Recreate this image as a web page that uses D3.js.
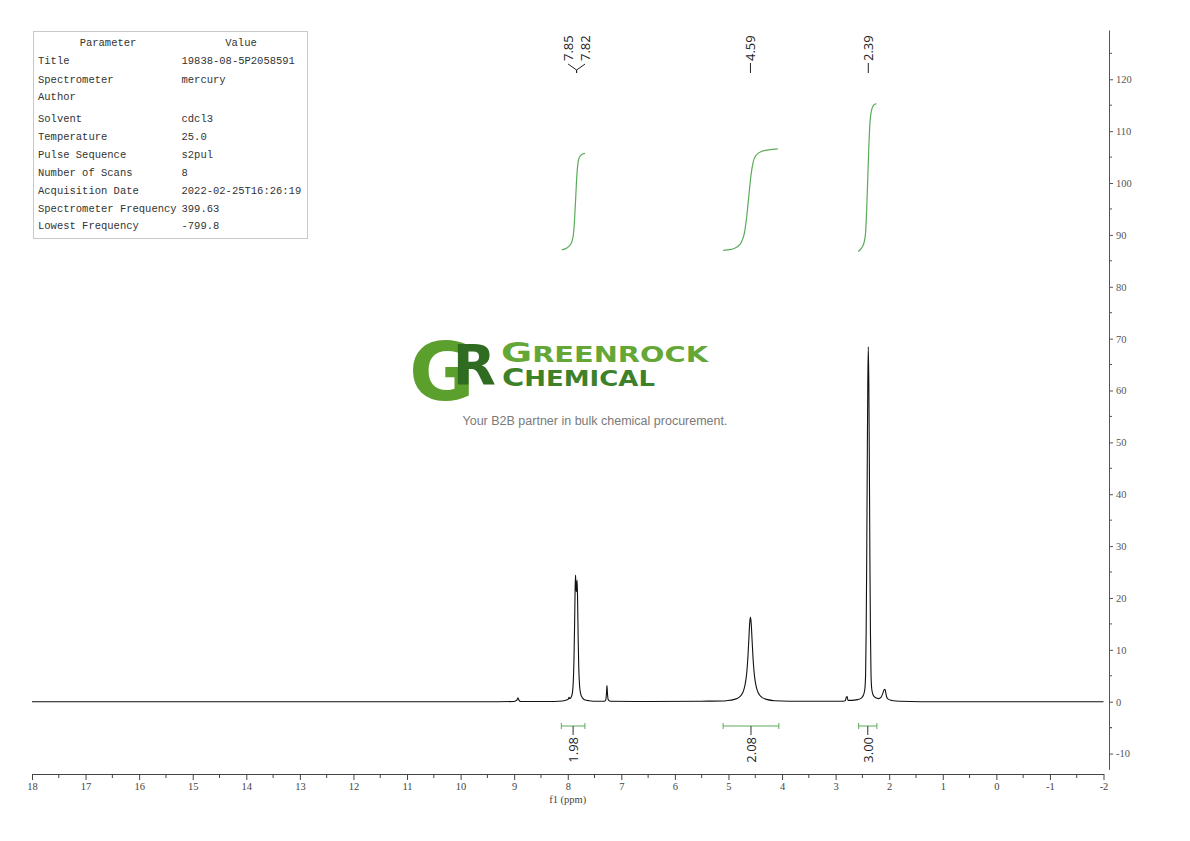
<!DOCTYPE html>
<html>
<head>
<meta charset="utf-8">
<script src="https://cdn.jsdelivr.net/npm/d3@7"></script>
<style>
  body { margin: 0; background: #fff; }
</style>
</head>
<body>
<div id="chart"></div>
<script>
// spectrum trace: [ppm, intensity]
const spectrum = [
  [18.0, 0], [15.0, 0], [12.0, 0], [9.3, 0], [9.0, 0.05], [8.95, 0.3], [8.93, 0.75], [8.91, 0.3], [8.88, 0.05], [8.4, 0.05],
  [8.1, 0.15], [8.05, 0.25], [7.99, 0.5], [7.975, 0.85], [7.96, 0.6], [7.935, 0.9], [7.915, 1.6], [7.9, 3.2], [7.885, 7.5],
  [7.872, 15], [7.862, 22], [7.855, 24.4], [7.847, 22.5], [7.84, 21.2], [7.832, 22.5], [7.825, 23.4], [7.816, 19.5],
  [7.806, 12.5], [7.795, 6.8], [7.78, 3.2], [7.76, 1.6], [7.73, 0.8], [7.69, 0.4], [7.6, 0.2], [7.45, 0.1],
  [7.32, 0.1], [7.29, 0.4], [7.278, 1.5], [7.268, 3.1], [7.258, 1.5], [7.245, 0.4], [7.21, 0.1],
  [6.5, 0.05], [5.5, 0.1], [5.1, 0.15],
  [5.04, 0.2], [4.89, 0.45], [4.81, 0.8], [4.76, 1.3], [4.72, 2.1], [4.69, 3.3], [4.67, 4.6], [4.65, 6.7], [4.635, 9.0],
  [4.62, 12.0], [4.605, 15.0], [4.59, 16.3], [4.575, 15.0], [4.56, 12.0], [4.545, 9.0], [4.53, 6.7], [4.51, 4.6],
  [4.49, 3.3], [4.46, 2.1], [4.42, 1.3], [4.37, 0.8], [4.29, 0.45], [4.14, 0.2],
  [3.6, 0.1], [2.9, 0.1], [2.82, 0.2], [2.8, 0.9], [2.785, 1.0], [2.77, 0.25], [2.7, 0.25],
  [2.59, 0.4], [2.52, 0.7], [2.48, 1.3], [2.455, 2.4], [2.44, 5.5], [2.43, 13.5], [2.42, 27], [2.41, 45], [2.4, 61],
  [2.39, 68.4], [2.38, 61], [2.37, 45], [2.36, 27], [2.35, 13.5], [2.34, 5.5], [2.325, 2.4], [2.3, 1.3], [2.26, 0.8],
  [2.2, 0.6], [2.15, 0.9], [2.12, 1.6], [2.095, 2.3], [2.08, 2.4], [2.065, 1.8], [2.05, 1.0], [2.02, 0.5], [1.95, 0.25],
  [1.8, 0.1], [1.0, 0], [-2.0, 0]
];

// integral curves (right axis units)
const integral1 = [[8.11, 87.1], [8.03, 87.4], [7.96, 88.0], [7.92, 88.8], [7.89, 90.5], [7.87, 93.5], [7.85, 97.5],
  [7.83, 101.5], [7.81, 103.8], [7.79, 104.8], [7.75, 105.4], [7.68, 105.7]];
const integral2 = [[5.10, 87.0], [4.95, 87.2], [4.85, 87.6], [4.76, 88.6], [4.70, 90.5], [4.66, 93.5], [4.62, 97.5],
  [4.58, 101.5], [4.54, 104.0], [4.48, 105.4], [4.38, 106.1], [4.25, 106.4], [4.08, 106.6]];
const integral3 = [[2.58, 86.8], [2.52, 87.4], [2.47, 88.5], [2.44, 90.5], [2.42, 95], [2.40, 101], [2.38, 107],
  [2.36, 111.5], [2.33, 114], [2.29, 115], [2.24, 115.3]];

const integralRanges = [[8.12, 7.68], [5.10, 4.06], [2.57, 2.23]];
const integralValues = ["1.98", "2.08", "3.00"];
const peakLabels = [7.85, 7.82, 4.59, 2.39];

const xTickValues = [18, 17, 16, 15, 14, 13, 12, 11, 10, 9, 8, 7, 6, 5, 4, 3, 2, 1, 0, -1, -2];
const yTickValues = [-10, 0, 10, 20, 30, 40, 50, 60, 70, 80, 90, 100, 110, 120];

const paramNames = ["Title", "Spectrometer", "Author", "Solvent", "Temperature", "Pulse Sequence",
  "Number of Scans", "Acquisition Date", "Spectrometer Frequency", "Lowest Frequency"];
const paramValues = ["19838-08-5P2058591", "mercury", "", "cdcl3", "25.0", "s2pul",
  "8", "2022-02-25T16:26:19", "399.63", "-799.8"];

const w = 1190;
const h = 841;
const green = "#5aab5a";
const serif = "'Liberation Serif', 'DejaVu Serif', serif";
const sans = "'Open Sans', 'Noto Sans', sans-serif";

const svg = d3.select("#chart").append("svg")
  .attr("width", w)
  .attr("height", h);

const x = d3.scaleLinear().domain([18, -2]).range([32, 1103.5]);
const y = d3.scaleLinear().domain([-13.03, 129.5]).range([769.3, 30]);

// bottom axis
const xAxis = d3.axisBottom(x)
  .tickValues(xTickValues)
  .tickFormat((d) => String(d))
  .tickSize(6)
  .tickSizeOuter(0);
const gx = svg.append("g")
  .attr("transform", "translate(0,774)")
  .call(xAxis);
gx.selectAll(".tick line, .domain").attr("stroke", "#444");
gx.selectAll("text")
  .attr("font-family", serif)
  .attr("font-size", 10.5)
  .attr("fill", "#444");
gx.selectAll(".minor")
  .data(xTickValues.slice(0, -1).map((d) => d - 0.5))
  .enter()
  .append("line")
  .attr("class", "minor")
  .attr("x1", (d) => x(d))
  .attr("x2", (d) => x(d))
  .attr("y1", 0)
  .attr("y2", 4)
  .attr("stroke", "#444");

svg.append("text")
  .attr("x", x(8))
  .attr("y", 803)
  .attr("text-anchor", "middle")
  .attr("font-family", serif)
  .attr("font-size", 10.5)
  .attr("fill", "#444")
  .text("f1 (ppm)");

// right axis
const yAxis = d3.axisRight(y)
  .tickValues(yTickValues)
  .tickFormat((d) => String(d))
  .tickSize(4)
  .tickPadding(3)
  .tickSizeOuter(0);
const gy = svg.append("g")
  .attr("transform", "translate(1109,0)")
  .call(yAxis);
gy.selectAll(".tick line, .domain").attr("stroke", "#555");
gy.selectAll("text")
  .attr("font-family", serif)
  .attr("font-size", 10.5)
  .attr("fill", "#555");
gy.selectAll(".minor")
  .data(yTickValues.map((d) => d + 5).concat([-5]))
  .enter()
  .append("line")
  .attr("class", "minor")
  .attr("x1", 0)
  .attr("x2", 3)
  .attr("y1", (d) => y(d))
  .attr("y2", (d) => y(d))
  .attr("stroke", "#555");

// watermark logo
const logo = svg.append("g");
const gr = logo.append("text")
  .attr("x", 409)
  .attr("y", 400)
  .attr("font-family", "'DejaVu Sans', sans-serif")
  .attr("font-weight", "bold");
gr.append("tspan").attr("font-size", 80).attr("fill", "#5b9f2d").text("G");
gr.append("tspan").attr("font-size", 56).attr("fill", "#2f6b21")
  .attr("dx", -22).attr("dy", -16).text("R");

const name = logo.append("text")
  .attr("font-family", "'DejaVu Sans', sans-serif")
  .attr("font-weight", "bold");
const l1 = name.append("tspan")
  .attr("x", 501)
  .attr("y", 362)
  .attr("fill", "#64a736")
  .attr("textLength", 207)
  .attr("lengthAdjust", "spacingAndGlyphs");
l1.append("tspan").attr("font-size", 27).text("G");
l1.append("tspan").attr("font-size", 20.5).text("REENROCK");
const l2 = name.append("tspan")
  .attr("x", 502)
  .attr("y", 385.5)
  .attr("fill", "#3f8129")
  .attr("textLength", 153)
  .attr("lengthAdjust", "spacingAndGlyphs");
l2.append("tspan").attr("font-size", 24).text("C");
l2.append("tspan").attr("font-size", 20.5).text("HEMICAL");

logo.append("text")
  .attr("x", 595)
  .attr("y", 425)
  .attr("text-anchor", "middle")
  .attr("font-family", "'Liberation Sans', Arial, sans-serif")
  .attr("font-size", 12.5)
  .attr("fill", "#7a7a7a")
  .text("Your B2B partner in bulk chemical procurement.");

// spectrum line
const line = d3.line()
  .x((d) => x(d[0]))
  .y((d) => y(d[1]))
  .curve(d3.curveMonotoneX);

svg.append("path")
  .datum(spectrum)
  .attr("d", line)
  .attr("fill", "none")
  .attr("stroke", "#111")
  .attr("stroke-width", 1.1);

// integral curves
svg.append("g")
  .selectAll("path")
  .data([integral1, integral2, integral3])
  .enter()
  .append("path")
  .attr("d", line)
  .attr("fill", "none")
  .attr("stroke", green)
  .attr("stroke-width", 1.2);

// integral brackets + values
const brackets = svg.append("g")
  .selectAll("g")
  .data(integralRanges)
  .enter()
  .append("g");
brackets.append("line")
  .attr("x1", (d) => x(d[0]))
  .attr("x2", (d) => x(d[1]))
  .attr("y1", 726)
  .attr("y2", 726)
  .attr("stroke", green);
brackets.append("line")
  .attr("x1", (d) => x(d[0]))
  .attr("x2", (d) => x(d[0]))
  .attr("y1", 723)
  .attr("y2", 729)
  .attr("stroke", green);
brackets.append("line")
  .attr("x1", (d) => x(d[1]))
  .attr("x2", (d) => x(d[1]))
  .attr("y1", 723)
  .attr("y2", 729)
  .attr("stroke", green);
brackets.append("line")
  .attr("x1", (d) => x((d[0] + d[1]) / 2))
  .attr("x2", (d) => x((d[0] + d[1]) / 2))
  .attr("y1", 726)
  .attr("y2", 735)
  .attr("stroke", "#333");
brackets.append("text")
  .attr("transform", (d) => `translate(${x((d[0] + d[1]) / 2)},737) rotate(-90)`)
  .attr("text-anchor", "end")
  .attr("dominant-baseline", "central")
  .attr("font-family", sans)
  .attr("font-size", 13)
  .attr("fill", "#222")
  .text((d, i) => integralValues[i]);

// peak labels: group close peaks and fan their labels out
const groups = [];
peakLabels.forEach((p) => {
  const last = groups[groups.length - 1];
  if (last && Math.abs(last[last.length - 1] - p) < 0.1) last.push(p);
  else groups.push([p]);
});
const labelGap = 17;
const peaks = svg.append("g");
groups.forEach((g) => {
  const stemX = d3.mean(g, (p) => x(p));
  g.forEach((p, i) => {
    const lx = stemX + (i - (g.length - 1) / 2) * labelGap;
    if (g.length > 1) {
      peaks.append("path")
        .attr("d", `M${stemX},73 L${stemX},70 L${lx},64`)
        .attr("fill", "none")
        .attr("stroke", "#222");
    } else {
      peaks.append("line")
        .attr("x1", lx).attr("x2", lx)
        .attr("y1", 73).attr("y2", 63)
        .attr("stroke", "#222");
    }
    peaks.append("text")
      .attr("transform", `translate(${lx},61) rotate(-90)`)
      .attr("dominant-baseline", "central")
      .attr("font-family", sans)
      .attr("font-size", 13)
      .attr("fill", "#222")
      .text(p.toFixed(2));
  });
});

// parameter table
const table = svg.append("g");
table.append("rect")
  .attr("x", 33.5)
  .attr("y", 31.5)
  .attr("width", 274)
  .attr("height", 207)
  .attr("fill", "#fff")
  .attr("stroke", "#c8c8c8");
const mono = "'Liberation Mono', 'DejaVu Sans Mono', monospace";
table.append("text")
  .attr("x", 108).attr("y", 43)
  .attr("text-anchor", "middle")
  .attr("dominant-baseline", "central")
  .attr("font-family", mono).attr("font-size", 10.5).attr("fill", "#333")
  .text("Parameter");
table.append("text")
  .attr("x", 241).attr("y", 43)
  .attr("text-anchor", "middle")
  .attr("dominant-baseline", "central")
  .attr("font-family", mono).attr("font-size", 10.5).attr("fill", "#333")
  .text("Value");
const rowY = [61.3, 79.5, 97, 119, 137, 155, 172.5, 190.5, 208.5, 226];
table.selectAll(".pname")
  .data(paramNames)
  .enter()
  .append("text")
  .attr("class", "pname")
  .attr("x", 38)
  .attr("y", (d, i) => rowY[i])
  .attr("dominant-baseline", "central")
  .attr("font-family", mono).attr("font-size", 10.5).attr("fill", "#333")
  .text((d) => d);
table.selectAll(".pval")
  .data(paramValues)
  .enter()
  .append("text")
  .attr("class", "pval")
  .attr("x", 181.5)
  .attr("y", (d, i) => rowY[i])
  .attr("dominant-baseline", "central")
  .attr("font-family", mono).attr("font-size", 10.5).attr("fill", "#333")
  .text((d) => d);
</script>
</body>
</html>
